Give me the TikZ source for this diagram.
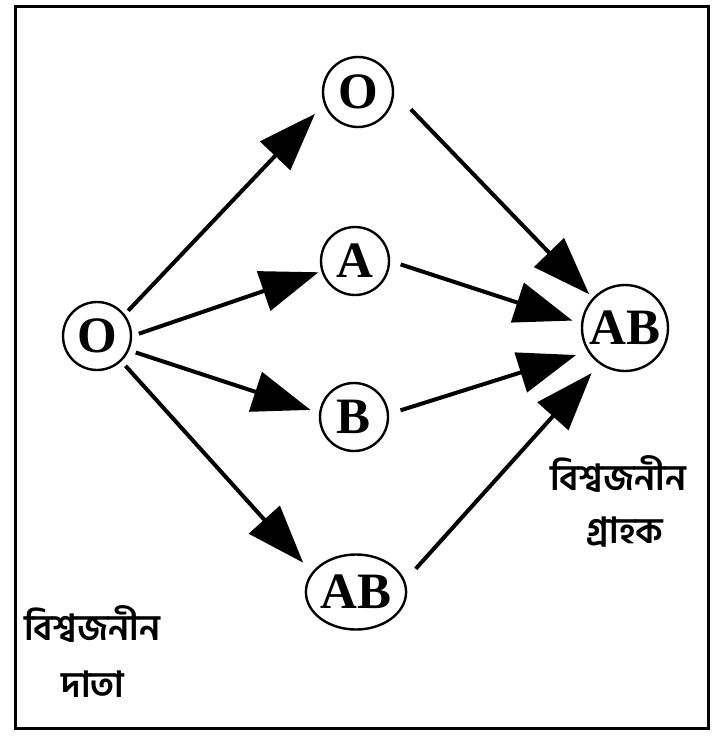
\documentclass[tikz,border=0pt]{standalone}
\usepackage{fontspec}
\usepackage{tikz}
\usetikzlibrary{arrows.meta}
\usetikzlibrary{shapes.geometric}
\newfontfamily\letterfont{Liberation Serif}
\newfontfamily\bnfont[Script=Bengali]{Hind Siliguri}

\begin{document}
\begin{tikzpicture}[x=1pt,y=-1pt]

          \tikzstyle{bloodNode} = [draw,circle,line width=2.4pt,inner sep=0pt,
                                   font=\letterfont\bfseries\fontsize{51}{55}\selectfont];
          \tikzstyle{giveEdge} = [line width=4pt,-{Triangle[length=58pt,width=41pt]}];
          \tikzstyle{bnText} = [anchor=base,font=\bnfont\bfseries\fontsize{36}{44}\selectfont];

          \useasboundingbox (0,0) rectangle (725,744);
          \draw[line width=3pt] (15,6) rectangle (708,728);

          \node[bloodNode,minimum size=68pt] (donor) at (97,336) {O};
          \node[bloodNode,minimum size=70pt] (o) at (358,92) {O};
          \node[bloodNode,minimum size=68pt] (a) at (355,261) {A};
          \node[bloodNode,minimum size=68pt] (b) at (354,417) {B};
          \node[bloodNode,ellipse,minimum width=92pt,minimum height=75pt] (ab) at (356,592) {AB};
          \node[bloodNode,minimum size=86pt] (recv) at (625,328) {AB};

          \node[bnText] (recvTxt) at (618,490) {বিশ্বজনীন};
          \node[bnText] (recvTxt2) at (625,543) {গ্রাহক};
          \node[bnText] (donorTxt) at (92,640) {বিশ্বজনীন};
          \node[bnText] (donorTxt2) at (93,697) {দাতা};

          \draw[giveEdge,shorten <=5pt,shorten >=13pt] (donor.38) -- (o.200);
          \draw[giveEdge,shorten <=7pt,shorten >=3pt] (donor.0) -- (a.197);
          \draw[giveEdge,shorten <=7pt,shorten >=9pt] (donor.-24) -- (b.173);
          \draw[giveEdge,shorten <=6pt,shorten >=13pt] (donor.-46) -- (ab.156);
          \draw[giveEdge,shorten <=24pt,shorten >=5pt] (o.0) -- (recv.137);
          \draw[giveEdge,shorten <=11pt,shorten >=9pt] (a.0) -- (recv.174);
          \draw[giveEdge,shorten <=12pt,shorten >=12pt] (b.5) -- (recv.212);
          \draw[giveEdge,shorten <=16pt,shorten >=12pt] (ab.13) -- (recv.235);
        \end{tikzpicture}
\end{document}
